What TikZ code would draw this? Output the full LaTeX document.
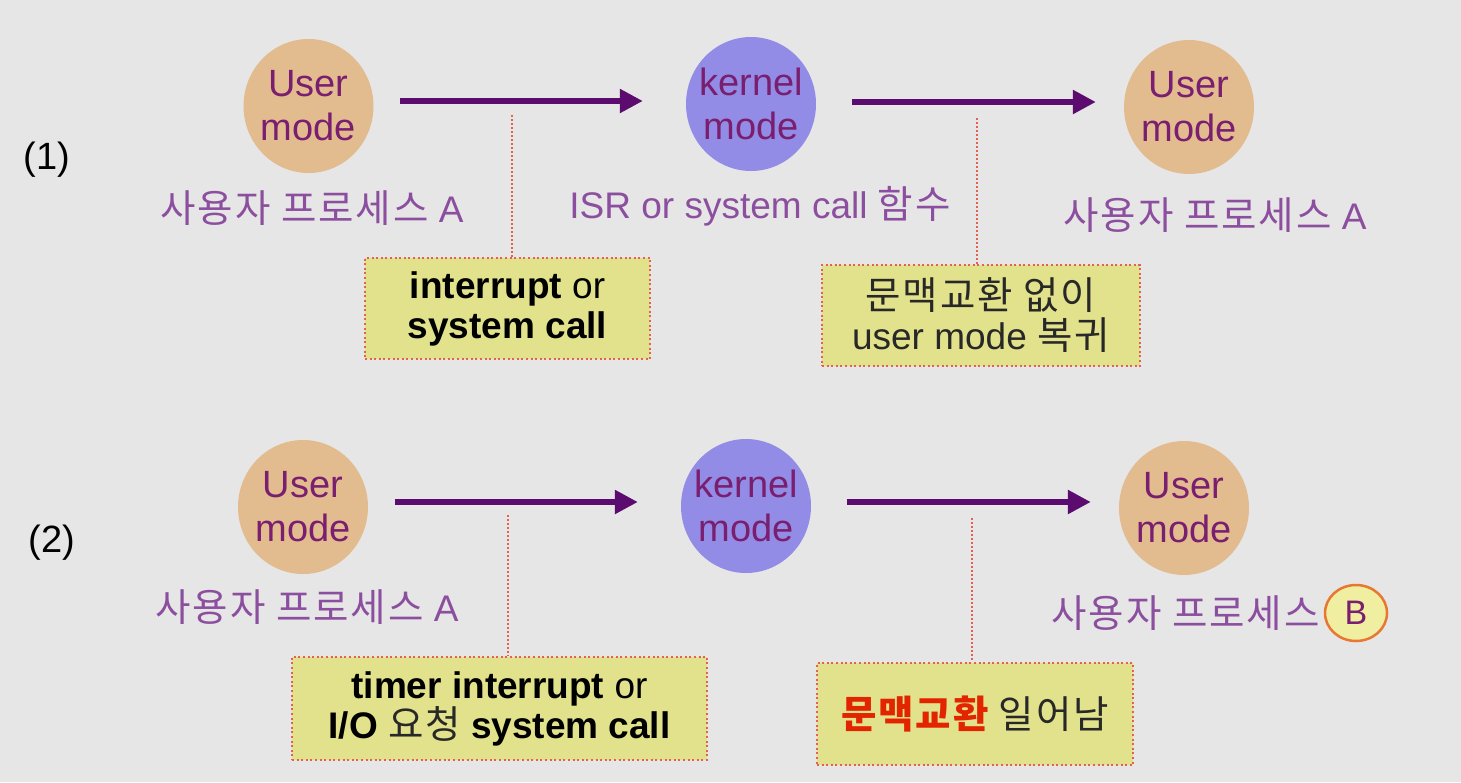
\documentclass[tikz,border=0pt]{standalone}
\usepackage{fontspec}
\setmainfont{Liberation Sans}
\newfontfamily\kr[Scale=1.04,LetterSpace=5]{Noto Sans CJK KR}
\usetikzlibrary{shapes.geometric,arrows.meta}
\definecolor{bg}{RGB}{230,230,230}
\definecolor{tan}{RGB}{226,188,142}
\definecolor{kern}{RGB}{146,140,230}
\definecolor{ptext}{RGB}{122,30,112}
\definecolor{plabel}{RGB}{140,78,158}
\definecolor{parrow}{RGB}{92,12,110}
\definecolor{boxfill}{RGB}{226,226,140}
\definecolor{dotred}{RGB}{228,96,80}
\definecolor{bfill}{RGB}{240,238,160}
\definecolor{borange}{RGB}{230,120,50}
\definecolor{ctxred}{RGB}{226,36,0}
\definecolor{krgray}{RGB}{40,40,40}
\tikzset{
  x=1pt,y=-1pt,
  bubble/.style={ellipse,inner sep=0pt,minimum width=130pt,minimum height=134pt},
  btext/.style={text=ptext,align=center,font=\fontsize{38}{44}\selectfont,inner sep=0pt},
  umode/.style={bubble,fill=tan},
  kmode/.style={bubble,fill=kern},
  lbl/.style={text=plabel,font=\fontsize{37}{42}\selectfont,inner sep=0pt},
  arr/.style={draw=parrow,line width=5.5pt,-{Triangle[length=23pt,width=23pt]}},
  dline/.style={draw=dotred,line width=2.6pt,dash pattern=on 1.8pt off 2.2pt},
  note/.style={rectangle,fill=boxfill,draw=dotred,line width=2.8pt,
    dash pattern=on 2pt off 2.6pt,align=center,inner sep=0pt,
    font=\fontsize{37}{40}\selectfont,text=black},
  numlbl/.style={font=\fontsize{38}{44}\selectfont,text=black,inner sep=0pt},
  bcirc/.style={ellipse,fill=bfill,draw=borange,line width=2.5pt,inner sep=0pt,
    minimum width=62pt,minimum height=56pt,text=ptext,font=\fontsize{34}{38}\selectfont}
}
\begin{document}
\begin{tikzpicture}
\useasboundingbox[fill=bg] (0,0) rectangle (1461,782);

% ---------- row 1 ----------
\node[numlbl] (n1) at (47,160) {(1)};
\node[umode,label={[btext]center:User\\mode}] (u1) at (308.5,106) {};
\node[kmode,label={[btext]center:kernel\\mode}] (k1) at (751,104) {};
\node[umode,label={[btext]center:User\\mode}] (u1r) at (1189,107) {};

\draw[arr] ([xshift=26pt,yshift=5pt]u1.east) -- ([xshift=-43pt,yshift=3pt]k1.west);
\draw[arr] ([xshift=36pt,yshift=2pt]k1.east) -- ([xshift=-28pt,yshift=5pt]u1r.west);

\node[lbl] (l1) at (312,208) {{\kr 사용자 프로세스} A};
\node[lbl] (l2) at (760,206) {ISR or system call {\kr 함수}};
\node[lbl] (l3) at (1215,215) {{\kr 사용자 프로세스} A};

\node[note,minimum width=285pt,minimum height=101pt] (b1) at (507.5,308.5)
  {\textbf{interrupt} or\\\textbf{system call}};
\node[note,minimum width=318pt,minimum height=101pt,text=krgray] (b2) at (981,315.5)
  {{\kr 문맥교환 없이}\\user mode {\kr 복귀}};

\coordinate (d1) at (512,115);
\coordinate (d2) at (977,118);
\draw[dline] (d1) -- (d1 |- b1.north);
\draw[dline] (d2) -- (d2 |- b2.north);

% ---------- row 2 ----------
\node[numlbl] (n2) at (52,543) {(2)};
\node[umode,label={[btext]center:User\\mode}] (u2) at (303,507) {};
\node[kmode,label={[btext]center:kernel\\mode}] (k2) at (746,506) {};
\node[umode,label={[btext]center:User\\mode}] (u2r) at (1184,508) {};

\draw[arr] ([xshift=27pt,yshift=5pt]u2.east) -- ([xshift=-43pt,yshift=4pt]k2.west);
\draw[arr] ([xshift=36pt,yshift=4pt]k2.east) -- ([xshift=-28pt,yshift=6pt]u2r.west);

\node[lbl] (l4) at (307,607) {{\kr 사용자 프로세스} A};
\node[bcirc] (bB) at (1356,613) {B};
\node[lbl,anchor=east] (l5) at ([xshift=-4pt]bB.west) {\kr 사용자 프로세스};

\node[note,minimum width=415pt,minimum height=103pt] (b3) at (499.5,708.5)
  {\textbf{timer interrupt} or\\\textbf{I/O} {\kr\color{krgray}요청} \textbf{system call}};
\node[note,minimum width=316pt,minimum height=102pt] (b4) at (975,714)
  {{\kr\bfseries\color{ctxred}문맥교환} {\kr\color{krgray}일어남}};

\coordinate (d3) at (508,515);
\coordinate (d4) at (972,518);
\draw[dline] (d3) -- (d3 |- b3.north);
\draw[dline] (d4) -- (d4 |- b4.north);
\end{tikzpicture}
\end{document}
